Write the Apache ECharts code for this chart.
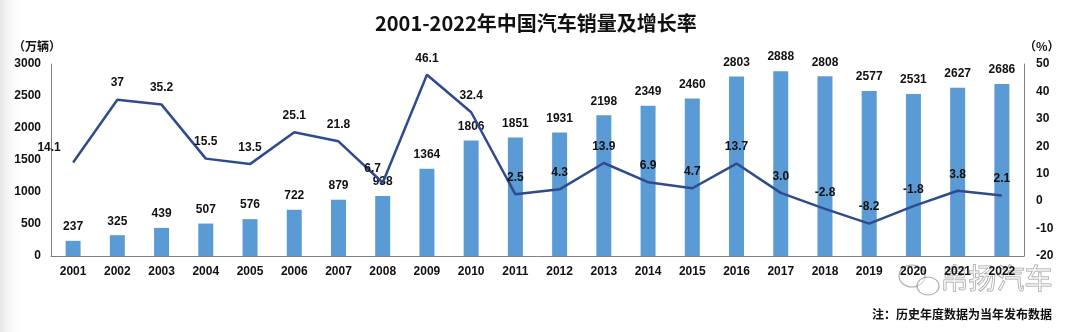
<!DOCTYPE html>
<html><head><meta charset="utf-8">
<script src="https://cdn.jsdelivr.net/npm/echarts@6/dist/echarts.min.js"></script>
<style>html,body{margin:0;padding:0;background:#fff}#c{width:1080px;height:332px}</style>
</head><body><div id="c"></div>
<script>
const years = ['2001','2002','2003','2004','2005','2006','2007','2008','2009','2010','2011','2012','2013','2014','2015','2016','2017','2018','2019','2020','2021','2022'];
const sales = [237,325,439,507,576,722,879,938,1364,1806,1851,1931,2198,2349,2460,2803,2888,2808,2577,2531,2627,2686];
const growth = [14.1,37,35.2,15.5,13.5,25.1,21.8,6.7,46.1,32.4,2.5,4.3,13.9,6.9,4.7,13.7,3.0,-2.8,-8.2,-1.8,3.8,2.1];
const growthLabels = ['14.1','37','35.2','15.5','13.5','25.1','21.8','6.7','46.1','32.4','2.5','4.3','13.9','6.9','4.7','13.7','3.0','-2.8','-8.2','-1.8','3.8','2.1'];
const leftTicks = [0,500,1000,1500,2000,2500,3000];
const rightTicks = [-20,-10,0,10,20,30,40,50];

const FONT = "'Liberation Sans','Noto Sans CJK SC',sans-serif";
const CJK = "'Noto Sans CJK SC',sans-serif";
const labelOffsets = {0:[-24,2], 7:[-10,2]};
const chart = echarts.init(document.getElementById('c'), null, {renderer:'canvas'});
chart.setOption({
  animation:false,
  backgroundColor:'#fff',
  title:{text:'2001-2022年中国汽车销量及增长率', left:370, top:8,
    textStyle:{fontFamily:CJK, fontWeight:'bold', fontSize:20, color:'#111'}},
  grid:{left:51, right:56, top:64, bottom:76},
  xAxis:{type:'category', data:years,
    axisLine:{lineStyle:{color:'#7f7f7f', width:1}}, axisTick:{show:false},
    axisLabel:{fontFamily:FONT, fontWeight:'bold', fontSize:12, color:'#111', margin:10, interval:0}},
  yAxis:[
    {type:'value', min:leftTicks[0], max:leftTicks[leftTicks.length-1], interval:500,
     name:'（万辆）', nameLocation:'end', nameGap:12,
     nameTextStyle:{fontFamily:CJK, fontWeight:'bold', fontSize:12, color:'#111', align:'right', padding:[0,-10,0,0]},
     axisLine:{show:true, lineStyle:{color:'#7f7f7f'}}, axisTick:{show:false}, splitLine:{show:false},
     axisLabel:{fontFamily:FONT, fontWeight:'bold', fontSize:12, color:'#111', margin:10, formatter:v=>String(v)}},
    {type:'value', min:rightTicks[0], max:rightTicks[rightTicks.length-1], interval:10,
     name:'（%）', nameLocation:'end', nameGap:12,
     nameTextStyle:{fontFamily:CJK, fontWeight:'bold', fontSize:12, color:'#111', align:'left'},
     axisLine:{show:true, lineStyle:{color:'#7f7f7f'}}, axisTick:{show:false}, splitLine:{show:false},
     axisLabel:{fontFamily:FONT, fontWeight:'bold', fontSize:12, color:'#111', margin:12, formatter:v=>String(v)}}
  ],
  series:[
    {type:'bar', data:sales, barWidth:15, itemStyle:{color:'#5b9bd5'},
     label:{show:true, position:'top', distance:8, fontFamily:FONT, fontWeight:'bold', fontSize:12, color:'#111'}},
    {type:'line', yAxisIndex:1, showSymbol:true, symbol:'circle', symbolSize:1, z:3,
     itemStyle:{color:'rgba(0,0,0,0)', borderWidth:0},
     data:growth.map((v,i)=>labelOffsets[i] ? {value:v, label:{offset:labelOffsets[i]}} : v),
     lineStyle:{color:'#2f4b8e', width:2.5},
     label:{show:true, position:'top', distance:10, fontFamily:FONT, fontWeight:'bold', fontSize:12, color:'#111',
       formatter:p=>growthLabels[p.dataIndex]}}
  ],
  graphic:[
    {type:'rect', z:-10, left:0, top:0, shape:{width:22, height:332},
     style:{fill:new echarts.graphic.LinearGradient(0,0,1,0,[{offset:0,color:'#e6e6e6'},{offset:1,color:'rgba(255,255,255,0)'}])}},
    {type:'text', left:872, top:308, style:{text:'注：历史年度数据为当年发布数据', fontFamily:CJK, fontWeight:'bold', fontSize:12, fill:'#111'}},
    {type:'ellipse', shape:{cx:912, cy:276, rx:13, ry:11}, style:{fill:'rgba(255,255,255,0.5)', stroke:'rgba(140,140,140,0.7)', lineWidth:1.2}},
    {type:'ellipse', shape:{cx:928, cy:286, rx:11, ry:9}, style:{fill:'rgba(255,255,255,0.5)', stroke:'rgba(140,140,140,0.7)', lineWidth:1.2}},
    {type:'text', left:940, top:264, style:{text:'帛扬汽车', fontFamily:CJK, fontSize:28, fill:'rgba(255,255,255,0.55)', stroke:'rgba(120,120,120,0.75)', lineWidth:1}}
  ]
});
</script></body></html>
